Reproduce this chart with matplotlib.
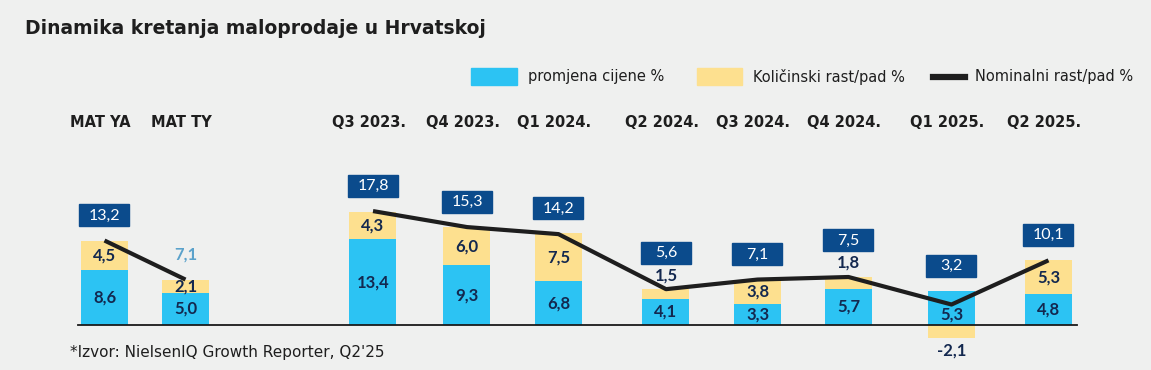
import numpy as np
import matplotlib.pyplot as plt
from matplotlib.patches import Rectangle

# podaci
kategorije = ['MAT YA', 'MAT TY', 'Q3 2023.', 'Q4 2023.', 'Q1 2024.', 'Q2 2024.',
              'Q3 2024.', 'Q4 2024.', 'Q1 2025.', 'Q2 2025.']
cijena = [8.6, 5.0, 13.4, 9.3, 6.8, 4.1, 3.3, 5.7, 5.3, 4.8]
kolicina = [4.5, 2.1, 4.3, 6.0, 7.5, 1.5, 3.8, 1.8, -2.1, 5.3]
nominalno = [13.2, 7.1, 17.8, 15.3, 14.2, 5.6, 7.1, 7.5, 3.2, 10.1]
oznake_nom = ['13,2', '7,1', '17,8', '15,3', '14,2', '5,6', '7,1', '7,5', '3,2', '10,1']
oznake_cij = ['8,6', '5,0', '13,4', '9,3', '6,8', '4,1', '3,3', '5,7', '5,3', '4,8']
oznake_kol = ['4,5', '2,1', '4,3', '6,0', '7,5', '1,5', '3,8', '1,8', '-2,1', '5,3']

# raspored (pikseli)
x_poz = [104.5, 185.5, 373, 467, 558.5, 666, 757.5, 848.5, 951.5, 1048.5]
W, H = 1151, 370
px = 6.4          # piksela po jedinici
baza = 325        # y piksel nulte linije
sirina = 47

plava = '#2cc3f3'
zuta = '#fde08f'
tamno = '#0b4b8c'
tekst = '#13284f'
crna = '#1e1e1e'
pozadina = '#eff0ef'

plt.rcParams['font.family'] = 'DejaVu Sans'
brojevi = dict(family='Lato', fontsize=12)

fig = plt.figure(figsize=(W / 100, H / 100), dpi=100)
fig.patch.set_facecolor(pozadina)
ax = fig.add_axes([0, 0, 1, 1])
ax.set_xlim(0, W)
ax.set_ylim(-(H - baza) / px, baza / px)
ax.axis('off')

ax.bar(x_poz, cijena, width=sirina, color=plava, zorder=2)
dno_kol = [c if k >= 0 else 0 for c, k in zip(cijena, kolicina)]
ax.bar(x_poz, kolicina, bottom=dno_kol, width=sirina, color=zuta, zorder=2)
ax.axhline(0, xmin=78 / W, xmax=1077 / W, color='#1a1a1a', lw=1.3, zorder=3)

# linija nominalnog rasta
ax.plot(x_poz[:2], nominalno[:2], color=crna, lw=3, zorder=4, solid_capstyle='butt')
ax.plot(x_poz[2:], nominalno[2:], color=crna, lw=3, zorder=4, solid_capstyle='butt')

for i, x in enumerate(x_poz):
    c, k = cijena[i], kolicina[i]
    y_cij = c / 2
    if nominalno[i] < c:
        y_cij = min(y_cij, nominalno[i] - 1.5)
    ax.text(x, y_cij, oznake_cij[i], ha='center', va='center', fontweight='bold',
            color=tekst, zorder=5, **brojevi)
    vrh = c + max(k, 0)
    razmak = 2.2
    if k < 0:
        ax.text(x, k - 12 / px, oznake_kol[i], ha='center', va='center',
                fontweight='bold', color=tekst, zorder=5, **brojevi)
    elif k < 2.0:
        ax.text(x, vrh + 14 / px, oznake_kol[i], ha='center', va='center',
                fontweight='bold', color=tekst, zorder=5, **brojevi)
        razmak = 4.0
    else:
        ax.text(x, c + k / 2, oznake_kol[i], ha='center', va='center',
                fontweight='bold', color=tekst, zorder=5, **brojevi)
    dno = max(vrh, nominalno[i]) + razmak
    if kategorije[i] == 'MAT TY':
        ax.text(x, vrh + 25 / px, oznake_nom[i], ha='center', va='center',
                fontweight='bold', color='#5ba2cb', zorder=5, **brojevi)
    else:
        ax.add_patch(Rectangle((x - 25, dno), 50, 22 / px, color=tamno, zorder=5))
        ax.text(x, dno + 11 / px, oznake_nom[i], ha='center', va='center',
                color='white', zorder=6, family='Lato', fontsize=11.5)
    ax.text(x - 4, 1 - 123 / H, kategorije[i], transform=ax.get_xaxis_transform(),
            ha='center', va='center', fontsize=10.5, fontweight='bold', color=crna)

fig.text(25 / W, 1 - 28 / H, 'Dinamika kretanja maloprodaje u Hrvatskoj', ha='left',
         va='center', fontsize=13.5, fontweight='bold', color=crna)
fig.text(70 / W, 1 - 352 / H, "*Izvor: NielsenIQ Growth Reporter, Q2'25", ha='left',
         va='center', fontsize=11, color=crna)

# legenda
ly = 1 - 77 / H
fig.patches.append(Rectangle((471 / W, 1 - 85 / H), 46 / W, 17 / H, color=plava,
                             transform=fig.transFigure, figure=fig))
fig.text(528 / W, ly, 'promjena cijene %', va='center', fontsize=10.5, color=crna)
fig.patches.append(Rectangle((697 / W, 1 - 85 / H), 45 / W, 17 / H, color=zuta,
                             transform=fig.transFigure, figure=fig))
fig.text(753 / W, ly, 'Količinski rast/pad %', va='center', fontsize=10.5, color=crna)
fig.lines.append(plt.Line2D([933 / W, 965 / W], [ly, ly], color=crna, lw=4.5,
                            transform=fig.transFigure, figure=fig))
fig.text(975 / W, ly, 'Nominalni rast/pad %', va='center', fontsize=10.5, color=crna)

fig.savefig('out.png', dpi=100, facecolor=fig.get_facecolor())
